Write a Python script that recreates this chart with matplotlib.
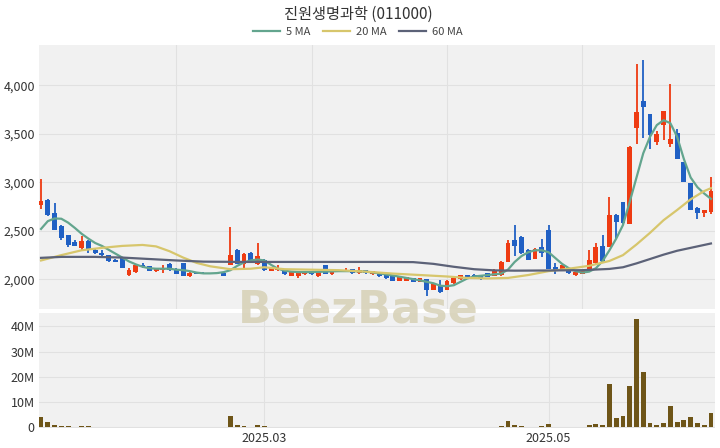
import matplotlib
matplotlib.use("Agg")
import matplotlib.pyplot as plt
from matplotlib.ticker import FuncFormatter, FixedLocator
import numpy as np

plt.rcParams['font.family'] = ['Noto Sans CJK KR', 'DejaVu Sans']

title = "진원생명과학 (011000)"

opens = [2770, 2820, 2680, 2555, 2455, 2390, 2325, 2400, 2305, 2275,
         2250, 2205, 2230, 2050, 2075, 2150, 2135, 2085, 2095, 2160,
         2110, 2165, 2030, 2075, 2070, 2058, 2058, 2070, 2150, 2300,
         2160, 2270, 2160, 2205, 2090, 2095, 2095, 2040, 2035, 2055,
         2075, 2030, 2145, 2055, 2080, 2090, 2105, 2070, 2095, 2055,
         2075, 2050, 2030, 1985, 1985, 2010, 1975, 2000, 1895, 1930,
         1895, 1960, 2000, 2045, 2050, 2035, 2065, 2040, 2045, 2180,
         2405, 2440, 2305, 2215, 2335, 2510, 2130, 2095, 2115, 2045,
         2060, 2095, 2165, 2340, 2335, 2665, 2795, 2575, 3560, 3840,
         3700, 3420, 3590, 3400, 3505, 3205, 2990, 2740, 2680, 2695]
highs = [3035, 2825, 2785, 2560, 2460, 2405, 2445, 2405, 2310, 2300,
         2255, 2210, 2235, 2120, 2160, 2165, 2140, 2115, 2145, 2165,
         2115, 2170, 2075, 2080, 2075, 2070, 2070, 2075, 2545, 2310,
         2275, 2280, 2375, 2215, 2130, 2145, 2110, 2080, 2085, 2090,
         2085, 2090, 2150, 2100, 2100, 2115, 2110, 2130, 2100, 2090,
         2080, 2055, 2035, 2025, 2025, 2015, 2015, 2005, 1960, 1990,
         1995, 2020, 2050, 2050, 2055, 2045, 2070, 2110, 2185, 2410,
         2560, 2445, 2310, 2320, 2420, 2565, 2165, 2150, 2120, 2080,
         2090, 2305, 2375, 2455, 2845, 2670, 2800, 3370, 4220, 4265,
         3705, 3530, 3735, 4015, 3550, 3210, 2995, 2750, 2720, 3060]
lows = [2730, 2655, 2505, 2405, 2335, 2340, 2295, 2270, 2265, 2245,
        2180, 2175, 2115, 2035, 2070, 2120, 2085, 2080, 2070, 2090,
        2055, 2035, 2025, 2055, 2055, 2055, 2055, 2035, 2145, 2155,
        2115, 2165, 2150, 2090, 2085, 2090, 2050, 2035, 2015, 2050,
        2050, 2025, 2055, 2050, 2075, 2085, 2060, 2055, 2060, 2050,
        2025, 2005, 1980, 1980, 1980, 1970, 1970, 1830, 1890, 1865,
        1890, 1955, 1995, 2015, 2020, 1995, 2020, 2035, 2040, 2175,
        2240, 2265, 2195, 2210, 2230, 2105, 2060, 2090, 2060, 2040,
        2055, 2090, 2145, 2170, 2330, 2420, 2575, 2570, 3390, 3455,
        3345, 3380, 3435, 3360, 3240, 3000, 2710, 2625, 2640, 2675]
closes = [2810, 2660, 2510, 2430, 2355, 2345, 2400, 2310, 2270, 2250,
          2185, 2180, 2120, 2100, 2145, 2125, 2090, 2110, 2120, 2095,
          2060, 2040, 2065, 2060, 2060, 2066, 2066, 2040, 2250, 2160,
          2260, 2170, 2240, 2095, 2120, 2120, 2055, 2075, 2075, 2080,
          2055, 2085, 2060, 2095, 2095, 2100, 2065, 2095, 2065, 2085,
          2030, 2010, 1985, 2020, 2020, 1975, 2010, 1890, 1950, 1875,
          1985, 2010, 2045, 2020, 2025, 2000, 2025, 2100, 2180, 2380,
          2340, 2270, 2200, 2310, 2270, 2110, 2100, 2145, 2065, 2075,
          2085, 2205, 2335, 2190, 2660, 2590, 2580, 3365, 3720, 3775,
          3490, 3500, 3730, 3445, 3240, 3000, 2710, 2680, 2715, 2910]
volumes_m = [4.0, 2.3, 0.8, 0.6, 0.6, 0.3, 0.5, 0.4, 0.2, 0.2,
             0.2, 0.15, 0.2, 0.15, 0.15, 0.1, 0.1, 0.1, 0.1, 0.1,
             0.1, 0.3, 0.1, 0.1, 0.1, 0.1, 0.1, 0.1, 4.4, 1.0,
             0.5, 0.3, 1.1, 0.4, 0.2, 0.2, 0.1, 0.1, 0.1, 0.1,
             0.1, 0.1, 0.1, 0.1, 0.1, 0.1, 0.1, 0.1, 0.1, 0.1,
             0.1, 0.1, 0.1, 0.1, 0.1, 0.1, 0.1, 0.3, 0.2, 0.2,
             0.2, 0.1, 0.1, 0.1, 0.1, 0.1, 0.2, 0.3, 0.4, 2.7,
             1.1, 0.4, 0.3, 0.3, 0.4, 1.3, 0.2, 0.2, 0.1, 0.1,
             0.1, 0.9, 1.3, 1.1, 17.3, 3.7, 4.7, 16.3, 42.8, 21.9,
             1.9, 0.8, 1.6, 8.4, 2.1, 3.1, 4.0, 1.6, 0.8, 5.6]

ma5_idx = [0, 1, 2, 3, 4, 5, 6, 7, 8, 9, 10, 11, 12, 13, 14, 15, 16, 17, 18, 19,
           20, 21, 22, 23, 24, 25, 26, 27, 28, 29, 30, 31, 32, 33, 34, 35, 36, 37, 38,
           40, 42, 44, 46, 48, 50, 52, 54, 56, 58, 59, 60, 61, 62, 63, 64, 66, 68,
           69, 70, 71, 72, 73, 74, 75, 76, 77, 78, 79, 80, 81, 82, 83, 84, 85, 86,
           87, 88, 89, 90, 91, 92, 93, 94, 95, 96, 97, 98, 99]
ma5_val = [2520, 2600, 2628, 2625, 2585, 2530, 2470, 2420, 2375, 2345, 2305, 2265,
           2225, 2185, 2155, 2130, 2115, 2110, 2110, 2110, 2100, 2095, 2085, 2070,
           2062, 2062, 2065, 2075, 2095, 2140, 2175, 2195, 2205, 2195, 2150, 2110,
           2090, 2080, 2075, 2075, 2080, 2085, 2085, 2080, 2062, 2040, 2015, 1990,
           1960, 1935, 1930, 1940, 1975, 2010, 2030, 2045, 2060, 2100, 2180, 2240,
           2280, 2300, 2300, 2280, 2220, 2160, 2115, 2085, 2070, 2080, 2115, 2190,
           2300, 2420, 2560, 2800, 3050, 3300, 3470, 3590, 3640, 3610, 3470, 3240,
           3050, 2950, 2885, 2830]
ma20_idx = [0, 3, 6, 9, 12, 15, 17, 19, 21, 23, 25, 28, 31, 33, 36, 40, 44, 48,
            52, 56, 60, 63, 66, 69, 72, 75, 78, 81, 84, 86, 88, 90, 92, 94, 96, 98, 99]
ma20_val = [2195, 2250, 2300, 2325, 2345, 2355, 2340, 2290, 2225, 2170, 2135, 2105,
            2110, 2125, 2105, 2100, 2095, 2080, 2060, 2045, 2030, 2015, 2010, 2015,
            2045, 2085, 2110, 2140, 2190, 2250, 2360, 2480, 2610, 2715, 2825, 2910, 2940]
ma60_idx = [0, 3, 8, 12, 16, 20, 24, 30, 40, 50, 55, 58, 61, 64, 67, 70, 75, 80,
            84, 86, 88, 90, 92, 94, 96, 98, 99]
ma60_val = [2222, 2232, 2232, 2225, 2210, 2195, 2183, 2180, 2180, 2180, 2178, 2160,
            2130, 2105, 2093, 2090, 2092, 2095, 2108, 2125, 2165, 2210, 2255, 2295,
            2325, 2355, 2370]

xtick_pos = [33, 75]
xtick_labels = ["2025.03", "2025.05"]

UP = '#ee3b12'
DOWN = '#2060c4'
BG = '#f1f1f1'
GRID = '#e1e1e1'

fig = plt.figure(figsize=(7.2, 4.48), dpi=100)
ax = fig.add_axes([39/720, 1-309/448, (715-39)/720, (309-45)/448])
axv = fig.add_axes([39/720, 1-428/448, (715-39)/720, (428-313)/448])

for a in (ax, axv):
    a.set_facecolor(BG)
    for s in a.spines.values():
        s.set_visible(False)
    a.tick_params(length=0, labelsize=9, labelcolor='#333333')
    a.set_xlim(-0.3, 99.6)
    a.set_axisbelow(True)

n = len(closes)
x = np.arange(n)
o = np.array(opens); c = np.array(closes); h = np.array(highs); l = np.array(lows)
up = c >= o
cols = np.where(up, UP, DOWN)

# watermark behind the marks
fig.text(0.497, 1-310/448, "BeezBase", ha='center', va='center', fontsize=32,
         fontweight='bold', color='#d6d0b6', alpha=0.85, family=['DejaVu Sans'],
         zorder=0.5)

ax.vlines(x, l, h, colors=cols, linewidth=1.3, zorder=3)
bottom = np.minimum(o, c)
height = np.maximum(np.abs(c - o), 6)
ax.bar(x, height, bottom=bottom, width=0.72, color=cols, linewidth=0, zorder=4)

ax.plot(ma5_idx, ma5_val, color='#63a58e', linewidth=1.6, zorder=5, label='5 MA')
ax.plot(ma20_idx, ma20_val, color='#d7c66c', linewidth=1.6, zorder=5, label='20 MA')
ax.plot(ma60_idx, ma60_val, color='#5c6278', linewidth=1.6, zorder=5, label='60 MA')

ax.set_ylim(1695, 4415)
ax.yaxis.set_major_locator(FixedLocator([2000, 2500, 3000, 3500, 4000]))
ax.yaxis.set_major_formatter(FuncFormatter(lambda v, p: f"{int(v):,}"))
ax.xaxis.set_major_locator(FixedLocator([20, 40, 60, 80]))
ax.set_xticklabels([])
ax.grid(True, color=GRID, linewidth=0.8)
ax.tick_params(axis='y', pad=3)

axv.bar(x, volumes_m, width=0.72, color='#6e5518', linewidth=0, zorder=3)
axv.set_ylim(-0.2, 45.3)
axv.yaxis.set_major_locator(FixedLocator([0, 10, 20, 30, 40]))
axv.yaxis.set_major_formatter(FuncFormatter(lambda v, p: "0" if v == 0 else f"{int(v)}M"))
axv.xaxis.set_major_locator(FixedLocator(xtick_pos))
axv.set_xticklabels(xtick_labels)
axv.grid(True, color=GRID, linewidth=0.8)
axv.tick_params(axis='y', pad=3)
axv.tick_params(axis='x', pad=3)

# make axes backgrounds transparent-aware: draw watermark over background but under marks
ax.patch.set_zorder(0)
axv.patch.set_zorder(0)

fig.text(0.497, 1-14/448, title, ha='center', va='center', fontsize=11, color='#333333')
fig.legend(loc='center', bbox_to_anchor=(0.497, 1-32/448), ncol=3, frameon=False,
           fontsize=8, handlelength=2.4, columnspacing=1.2, handletextpad=0.5,
           labelcolor='#444444')

fig.savefig("out.png", dpi=100, facecolor='white')
